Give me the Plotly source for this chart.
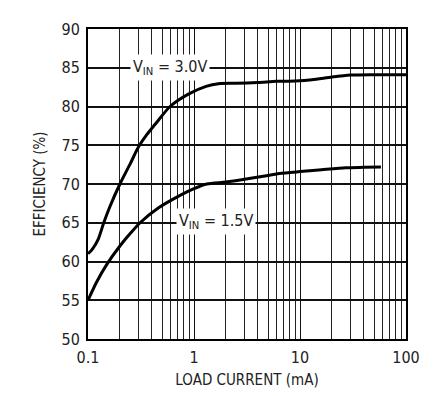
import plotly.graph_objects as go

# Data
i_30 = [0.1, 0.11, 0.125, 0.14, 0.16, 0.2, 0.25, 0.3, 0.36, 0.43, 0.594, 0.885, 1.3, 1.7, 2.5, 4, 6, 9, 13, 20, 30, 50, 100]
eff_30 = [61.0, 61.6, 62.9, 64.9, 67.0, 70.0, 72.6, 74.8, 76.4, 77.7, 80.0, 81.6, 82.6, 82.95, 83.0, 83.1, 83.25, 83.3, 83.45, 83.8, 84.05, 84.1, 84.1]

i_15 = [0.1, 0.12, 0.15, 0.2, 0.25, 0.31, 0.46, 0.71, 1.0, 1.32, 2.0, 3.0, 4.5, 6.4, 10, 15, 27, 40, 58]
eff_15 = [55.0, 57.3, 59.6, 62.0, 63.6, 65.0, 66.9, 68.4, 69.4, 70.0, 70.25, 70.6, 71.0, 71.35, 71.6, 71.8, 72.1, 72.15, 72.2]

x_ticks = [0.1, 1, 10, 100]
x_ticklabels = ["0.1", "1", "10", "100"]
x_minor = [m * d for d in (0.1, 1, 10) for m in range(2, 10)]
y_ticks = [50, 55, 60, 65, 70, 75, 80, 85, 90]

font_family = "Liberation Sans Narrow, DejaVu Sans Condensed, Liberation Sans, Arial, sans-serif"

fig = go.Figure()
for xs, ys in ((i_30, eff_30), (i_15, eff_15)):
    fig.add_trace(go.Scatter(x=xs, y=ys, mode="lines",
                             line=dict(color="black", width=3, shape="spline", smoothing=0.7),
                             showlegend=False, hoverinfo="skip"))

fig.add_annotation(x=-0.226, y=85, xref="x", yref="y", text="V<sub>IN</sub> = 3.0V",
                   showarrow=False, bgcolor="white", font=dict(size=16, color="#222", family=font_family),
                   borderpad=2)
fig.add_annotation(x=0.207, y=65.2, xref="x", yref="y", text="V<sub>IN</sub> = 1.5V",
                   showarrow=False, bgcolor="white", font=dict(size=16, color="#222", family=font_family),
                   borderpad=2)

fig.update_layout(
    width=442, height=396,
    margin=dict(l=80, r=44, t=15, b=65),
    paper_bgcolor="white", plot_bgcolor="white",
    font=dict(family=font_family, color="#222"),
    xaxis=dict(type="log", range=[-1, 2], tickvals=x_ticks, ticktext=x_ticklabels,
               showgrid=True, gridcolor="#111", gridwidth=1.2,
               minor=dict(tickvals=x_minor, showgrid=True, gridcolor="#222", gridwidth=1, ticks=""),
               showline=True, linecolor="black", linewidth=2, mirror=True,
               ticks="", tickfont=dict(size=16), zeroline=False, ticklabelstandoff=3,
               title=dict(text="LOAD CURRENT (mA)", font=dict(size=15), standoff=8)),
    yaxis=dict(range=[50, 90], tickvals=y_ticks, showgrid=True, gridcolor="#111", gridwidth=1.5,
               showline=True, linecolor="black", linewidth=2, mirror=True,
               ticks="", tickfont=dict(size=16), zeroline=False, ticklabelstandoff=3,
               title=dict(text="EFFICIENCY (%)", font=dict(size=15), standoff=12)),
)

fig.write_html("out.html")
